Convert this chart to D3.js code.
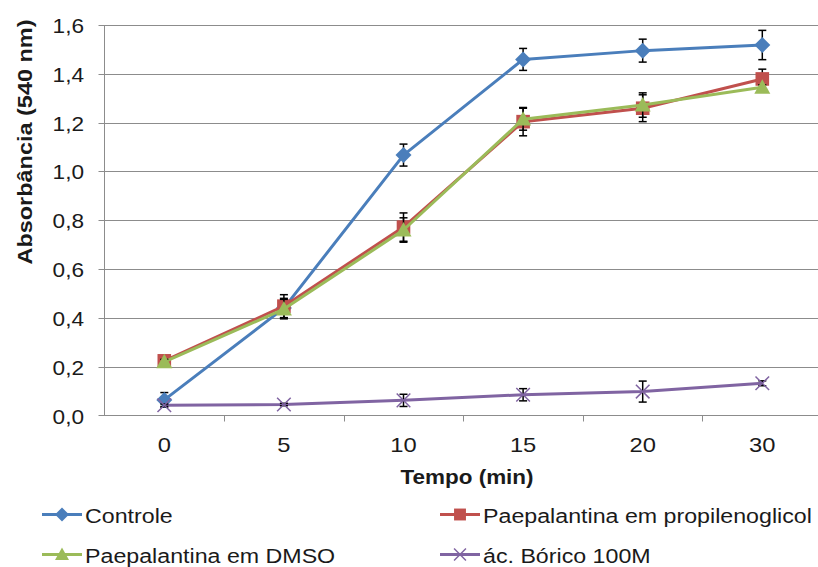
<!DOCTYPE html>
<html>
<head>
<meta charset="utf-8">
<script src="https://cdn.jsdelivr.net/npm/d3@7"></script>
<style>
  body { margin: 0; background: #fff; }
  svg { display: block; font-family: "Liberation Sans", Arial, sans-serif; }
</style>
</head>
<body>
<svg id="chart" width="818" height="567"></svg>
<script>
"use strict";

var tempos = ['0', '5', '10', '15', '20', '30'];
var y_ticks = [0, 0.2, 0.4, 0.6, 0.8, 1.0, 1.2, 1.4, 1.6];

var controle = [0.064, 0.44, 1.067, 1.459, 1.495, 1.518];
var controle_err = [0.03, 0.04, 0.045, 0.045, 0.047, 0.06];

var propilenoglicol = [0.224, 0.448, 0.772, 1.204, 1.259, 1.379];
var propilenoglicol_err = [0.01, 0.047, 0.058, 0.058, 0.055, 0.04];

var dmso = [0.22, 0.436, 0.76, 1.214, 1.272, 1.345];
var dmso_err = [0.01, 0.04, 0.05, 0.045, 0.05, 0.01];

var borico = [0.042, 0.045, 0.062, 0.085, 0.098, 0.132];
var borico_err = [0.005, 0.005, 0.025, 0.025, 0.043, 0.01];

var series = [
    { name: 'Controle', values: controle, err: controle_err, color: '#4a7ebb', marker: 'diamond' },
    { name: 'Paepalantina em propilenoglicol', values: propilenoglicol, err: propilenoglicol_err, color: '#c0504d', marker: 'square' },
    { name: 'Paepalantina em DMSO', values: dmso, err: dmso_err, color: '#9bbb59', marker: 'triangle' },
    { name: 'ác. Bórico 100M', values: borico, err: borico_err, color: '#8064a2', marker: 'x' }
];

var svg = d3.select('#chart');

var plot_left = 104.5, plot_top = 25, plot_bottom = 415.5;
var x = d3.scaleBand().domain(tempos).range([plot_left, plot_left + 6 * 119.6]);
var y = d3.scaleLinear().domain([0, 1.6]).range([plot_bottom, plot_top]);

function cx(i) { return x(tempos[i]) + x.bandwidth() / 2; }

// the picture is a bit wider than tall, widen the horizontal texts to match
function stretch(sel, k) {
    sel.each(function() {
        var w = this.getComputedTextLength();
        d3.select(this).attr('textLength', w * k).attr('lengthAdjust', 'spacingAndGlyphs');
    });
}

// gridlines
svg.append('g')
    .selectAll('line')
    .data(y_ticks.slice(1))
    .join('line')
    .attr('x1', plot_left - 6).attr('x2', 818)
    .attr('y1', function(d) { return Math.round(y(d)) + 0.5; })
    .attr('y2', function(d) { return Math.round(y(d)) + 0.5; })
    .attr('stroke', '#8c8c8c').attr('stroke-width', 1);

// axes lines
svg.append('line')
    .attr('x1', plot_left - 6).attr('x2', 818)
    .attr('y1', plot_bottom).attr('y2', plot_bottom)
    .attr('stroke', '#8c8c8c');
svg.append('line')
    .attr('x1', plot_left).attr('x2', plot_left)
    .attr('y1', plot_top).attr('y2', plot_bottom)
    .attr('stroke', '#8c8c8c');

// x ticks at band boundaries
svg.append('g')
    .selectAll('line')
    .data(tempos)
    .join('line')
    .attr('x1', function(d) { return Math.round(x(d) + x.bandwidth()) + 0.5; })
    .attr('x2', function(d) { return Math.round(x(d) + x.bandwidth()) + 0.5; })
    .attr('y1', plot_bottom).attr('y2', plot_bottom + 6)
    .attr('stroke', '#8c8c8c');

// tick labels
svg.append('g')
    .selectAll('text')
    .data(y_ticks)
    .join('text')
    .attr('x', 84)
    .attr('y', function(d) { return y(d) + 8; })
    .attr('text-anchor', 'end')
    .attr('font-size', 20)
    .attr('fill', '#1a1a1a')
    .text(function(d) { return d3.format('.1f')(d).replace('.', ','); })
    .call(stretch, 1.13);

svg.append('g')
    .selectAll('text')
    .data(tempos)
    .join('text')
    .attr('x', function(d) { return x(d) + x.bandwidth() / 2; })
    .attr('y', 452)
    .attr('text-anchor', 'middle')
    .attr('font-size', 21)
    .attr('fill', '#1a1a1a')
    .text(function(d) { return d; })
    .call(stretch, 1.13);

// axis titles
svg.append('text')
    .attr('x', 467).attr('y', 484)
    .attr('text-anchor', 'middle')
    .attr('font-size', 21).attr('font-weight', 'bold')
    .attr('fill', '#1a1a1a')
    .text('Tempo (min)')
    .call(stretch, 1.07);

svg.append('text')
    .attr('transform', 'translate(32,142) rotate(-90)')
    .attr('text-anchor', 'middle')
    .attr('font-size', 21).attr('font-weight', 'bold')
    .attr('fill', '#1a1a1a')
    .attr('textLength', 245).attr('lengthAdjust', 'spacingAndGlyphs')
    .text('Absorbância (540 nm)');

function draw_marker(g, type, color, px, py, s) {
    if (type === 'diamond') {
        g.append('path')
            .attr('d', 'M' + px + ',' + (py - s) + 'L' + (px + s) + ',' + py + 'L' + px + ',' + (py + s) + 'L' + (px - s) + ',' + py + 'Z')
            .attr('fill', color);
    } else if (type === 'square') {
        g.append('rect')
            .attr('x', px - s * 0.85).attr('y', py - s * 0.85)
            .attr('width', s * 1.7).attr('height', s * 1.7)
            .attr('fill', color);
    } else if (type === 'triangle') {
        g.append('path')
            .attr('d', 'M' + px + ',' + (py - s) + 'L' + (px + s) + ',' + (py + s * 0.8) + 'L' + (px - s) + ',' + (py + s * 0.8) + 'Z')
            .attr('fill', color);
    } else {
        var k = s * 0.85;
        g.append('path')
            .attr('d', 'M' + (px - k) + ',' + (py - k) + 'L' + (px + k) + ',' + (py + k) + 'M' + (px - k) + ',' + (py + k) + 'L' + (px + k) + ',' + (py - k))
            .attr('stroke', color).attr('stroke-width', 1.5).attr('fill', 'none');
    }
}

var line = d3.line()
    .x(function(d, i) { return cx(i); })
    .y(function(d) { return y(d); });

series.forEach(function(s) {
    var g = svg.append('g');
    g.append('path')
        .datum(s.values)
        .attr('d', line)
        .attr('fill', 'none')
        .attr('stroke', s.color)
        .attr('stroke-width', 3)
        .attr('stroke-linejoin', 'round');

    // error bars
    s.values.forEach(function(v, i) {
        var px = cx(i), e = s.err[i];
        var eg = g.append('g').attr('stroke', '#000').attr('stroke-width', 1.5);
        eg.append('line').attr('x1', px).attr('x2', px).attr('y1', y(v - e)).attr('y2', y(v + e));
        eg.append('line').attr('x1', px - 4).attr('x2', px + 4).attr('y1', y(v + e)).attr('y2', y(v + e));
        eg.append('line').attr('x1', px - 4).attr('x2', px + 4).attr('y1', y(v - e)).attr('y2', y(v - e));
    });

    s.values.forEach(function(v, i) {
        draw_marker(g, s.marker, s.color, cx(i), y(v), 8);
    });
});

// legend
var legend_pos = [[42, 514.5], [440, 514.5], [42, 554.5], [440, 554.5]];
series.forEach(function(s, i) {
    var lx = legend_pos[i][0], ly = legend_pos[i][1];
    var g = svg.append('g');
    g.append('line')
        .attr('x1', lx).attr('x2', lx + 40)
        .attr('y1', ly).attr('y2', ly)
        .attr('stroke', s.color).attr('stroke-width', 3);
    draw_marker(g, s.marker, s.color, lx + 20, ly, 7);
    g.append('text')
        .attr('x', lx + 43).attr('y', ly + 8)
        .attr('font-size', 20)
        .attr('fill', '#1a1a1a')
        .text(s.name)
        .call(stretch, 1.16);
});
</script>
</body>
</html>
